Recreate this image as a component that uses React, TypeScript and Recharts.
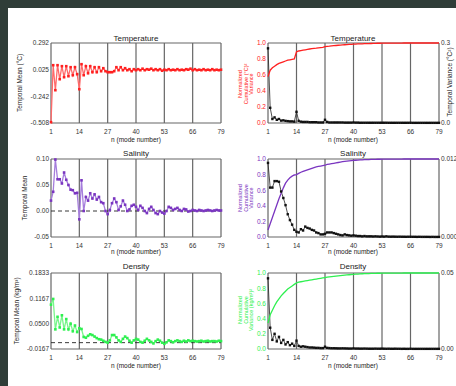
import React from 'react';
import { ComposedChart, Line, XAxis, YAxis, ReferenceLine, CartesianGrid } from 'recharts';

const FONT = '"Liberation Sans", Arial, Helvetica, sans-serif';

const modes = [1,2,3,4,5,6,7,8,9,10,11,12,13,14,15,16,17,18,19,20,21,22,23,24,25,26,27,28,29,30,31,32,33,34,35,36,37,38,39,40,41,42,43,44,45,46,47,48,49,50,51,52,53,54,55,56,57,58,59,60,61,62,63,64,65,66,67,68,69,70,71,72,73,74,75,76,77,78,79];
const modeTicks = [1, 14, 27, 40, 53, 66, 79];
const gridModes = [1, 14, 27, 40, 53, 66, 79];

// Temperature
const tempMean = [
  -0.50, 0.07, -0.18, 0.07, -0.07, 0.06, -0.05, 0.06, -0.04, 0.05,
  -0.03, 0.05, -0.02, -0.17, 0.08, -0.03, 0.06, -0.01, 0.06, 0.00,
  0.05, 0.00, 0.05, 0.01, 0.04, 0.01, 0.00, 0.00, 0.00, 0.01,
  0.05, 0.02, 0.05, 0.02, 0.04, 0.02, 0.03, 0.01, 0.03, 0.02,
  0.03, 0.02, 0.035, 0.02, 0.03, 0.025, 0.035, 0.02, 0.03, 0.02,
  0.03, 0.015, 0.025, 0.02, 0.03, 0.02, 0.025, 0.02, 0.03, 0.02,
  0.025, 0.02, 0.03, 0.025, 0.035, 0.02, 0.03, 0.02, 0.025, 0.02,
  0.03, 0.02, 0.025, 0.02, 0.03, 0.02, 0.025, 0.02, 0.025
];
const tempCum = [
  0.58, 0.66, 0.69, 0.71, 0.73, 0.745, 0.755, 0.765, 0.775, 0.785,
  0.79, 0.795, 0.80, 0.89, 0.90, 0.905, 0.91, 0.915, 0.92, 0.925,
  0.93, 0.933, 0.936, 0.94, 0.943, 0.946, 0.955, 0.958, 0.96, 0.963,
  0.966, 0.969, 0.972, 0.974, 0.976, 0.978, 0.98, 0.982, 0.984, 0.986,
  0.987, 0.988, 0.989, 0.99, 0.991, 0.992, 0.993, 0.994, 0.995, 0.996,
  0.997, 0.997, 0.998, 0.998, 0.998, 0.999, 0.999, 0.999, 0.999, 0.999,
  0.999, 0.999, 1.0, 1.0, 1.0, 1.0, 1.0, 1.0, 1.0, 1.0,
  1.0, 1.0, 1.0, 1.0, 1.0, 1.0, 1.0, 1.0, 1.0
];
const tempVar = [
  0.28, 0.057, 0.015, 0.021, 0.012, 0.015, 0.009, 0.010, 0.008, 0.007,
  0.006, 0.006, 0.005, 0.042, 0.008, 0.005, 0.004, 0.004, 0.004, 0.003,
  0.003, 0.003, 0.003, 0.002, 0.002, 0.002, 0.012, 0.004, 0.002, 0.002,
  0.002, 0.002, 0.002, 0.002, 0.002, 0.0015, 0.0015, 0.0015, 0.0015, 0.002,
  0.0015, 0.0015, 0.001, 0.001, 0.001, 0.001, 0.001, 0.001, 0.001, 0.001,
  0.001, 0.001, 0.001, 0.001, 0.001, 0.0008, 0.0008, 0.0008, 0.0008, 0.0008,
  0.0008, 0.0008, 0.0008, 0.0008, 0.0008, 0.0008, 0.0006, 0.0006, 0.0006, 0.0006,
  0.0006, 0.0006, 0.0006, 0.0006, 0.0006, 0.0006, 0.0006, 0.0006, 0.0006
];

// Salinity
const salMean = [
  0.020, 0.037, 0.099, 0.061, 0.061, 0.053, 0.074, 0.060, 0.050, 0.041,
  0.040, 0.034, 0.035, -0.016, 0.059, 0.000, 0.027, 0.020, 0.034, 0.024,
  0.032, 0.022, 0.027, 0.017, 0.015, 0.000, -0.006, 0.002, 0.015, 0.024,
  0.017, 0.002, 0.009, 0.020, 0.012, 0.000, 0.003, 0.010, 0.012, 0.008,
  0.002, 0.010, 0.006, 0.000, -0.004, 0.004, 0.008, 0.002, -0.004, -0.006,
  0.000, -0.003, -0.005, 0.000, 0.008, 0.006, 0.002, 0.004, 0.006, 0.002,
  0.000, 0.004, 0.003, -0.001, 0.000, 0.002, 0.001, 0.000, 0.002, 0.001,
  0.000, 0.001, 0.002, 0.001, 0.000, 0.001, 0.002, 0.001, 0.001
];
const salCum = [
  0.09, 0.17, 0.25, 0.33, 0.41, 0.49, 0.56, 0.63, 0.69, 0.73,
  0.76, 0.78, 0.795, 0.80, 0.815, 0.83, 0.84, 0.85, 0.86, 0.87,
  0.88, 0.89, 0.90, 0.905, 0.91, 0.915, 0.92, 0.93, 0.935, 0.94,
  0.945, 0.95, 0.955, 0.96, 0.965, 0.97, 0.973, 0.976, 0.979, 0.982,
  0.984, 0.986, 0.988, 0.99, 0.991, 0.992, 0.993, 0.994, 0.995, 0.996,
  0.997, 0.997, 0.998, 0.998, 0.998, 0.999, 0.999, 0.999, 0.999, 0.999,
  0.999, 0.999, 1.0, 1.0, 1.0, 1.0, 1.0, 1.0, 1.0, 1.0,
  1.0, 1.0, 1.0, 1.0, 1.0, 1.0, 1.0, 1.0, 1.0
];
const salVar = [
  0.0114, 0.0076, 0.0076, 0.0086, 0.0086, 0.0085, 0.0070, 0.0060, 0.0049, 0.0035,
  0.0026, 0.0019, 0.0011, 0.0008, 0.0007, 0.0012, 0.0010, 0.0016, 0.0014, 0.0013,
  0.0011, 0.0010, 0.0007, 0.0006, 0.0004, 0.0004, 0.0005, 0.0007, 0.0007, 0.0007,
  0.0006, 0.0005, 0.0004, 0.0003, 0.00025, 0.0004, 0.0003, 0.00025, 0.0002, 0.00025,
  0.0002, 0.00015, 0.00015, 0.0001, 0.00015, 0.0001, 0.0001, 0.0001, 0.00008, 0.0001,
  0.00008, 0.00006, 0.00008, 0.00006, 0.0001, 0.00006, 0.00005, 0.00006, 0.00005, 0.00004,
  0.00005, 0.00004, 0.00004, 0.00003, 0.00004, 0.00003, 0.00003, 0.00003, 0.00002, 0.00003,
  0.00002, 0.00002, 0.00002, 0.00002, 0.00001, 0.00002, 0.00001, 0.00001, 0.00001
];

// Density
const denMean = [
  0.100, 0.115, 0.035, 0.068, 0.040, 0.072, 0.035, 0.062, 0.035, 0.050,
  0.030, 0.045, 0.028, 0.038, 0.036, 0.015, 0.013, 0.018, 0.022, 0.020,
  0.016, 0.012, 0.009, 0.008, 0.005, 0.002, 0.000, 0.006, 0.020, 0.020,
  0.014, 0.006, 0.002, 0.010, 0.016, 0.012, 0.005, 0.000, 0.006, 0.010,
  0.008, 0.002, 0.000, 0.005, 0.010, 0.006, 0.002, -0.002, 0.004, 0.008,
  0.005, 0.000, -0.003, 0.001, 0.006, 0.004, 0.001, 0.004, 0.006, 0.004,
  0.002, 0.005, 0.003, 0.006, 0.004, 0.005, 0.004, 0.003, 0.004, 0.005,
  0.003, 0.004, 0.005, 0.003, 0.004, 0.004, 0.003, 0.005, 0.004
];
const denCum = [
  0.34, 0.45, 0.51, 0.57, 0.62, 0.66, 0.70, 0.73, 0.76, 0.79,
  0.81, 0.83, 0.85, 0.87, 0.88, 0.885, 0.89, 0.895, 0.90, 0.905,
  0.91, 0.915, 0.92, 0.925, 0.93, 0.935, 0.94, 0.945, 0.95, 0.953,
  0.956, 0.959, 0.962, 0.965, 0.968, 0.971, 0.974, 0.977, 0.98, 0.982,
  0.984, 0.986, 0.988, 0.99, 0.991, 0.992, 0.993, 0.994, 0.995, 0.996,
  0.997, 0.997, 0.998, 0.998, 0.998, 0.999, 0.999, 0.999, 0.999, 0.999,
  0.999, 0.999, 1.0, 1.0, 1.0, 1.0, 1.0, 1.0, 1.0, 1.0,
  1.0, 1.0, 1.0, 1.0, 1.0, 1.0, 1.0, 1.0, 1.0
];
const denVar = [
  0.0465, 0.014, 0.006, 0.010, 0.005, 0.008, 0.004, 0.006, 0.003, 0.0045,
  0.0025, 0.0035, 0.002, 0.0055, 0.002, 0.0015, 0.00175, 0.0015, 0.00125, 0.001,
  0.001, 0.0009, 0.00075, 0.00075, 0.0006, 0.0006, 0.0015, 0.00075, 0.0006, 0.0005,
  0.0005, 0.00045, 0.0004, 0.0004, 0.00045, 0.0004, 0.00035, 0.0003, 0.0003, 0.0004,
  0.0003, 0.0003, 0.00025, 0.00025, 0.0003, 0.00025, 0.0002, 0.0002, 0.0002, 0.00025,
  0.0002, 0.0002, 0.00025, 0.0002, 0.00015, 0.0002, 0.00015, 0.00015, 0.0002, 0.00015,
  0.00015, 0.0001, 0.00015, 0.0001, 0.0001, 0.00015, 0.0001, 0.0001, 0.0001, 0.0001,
  0.0001, 0.0001, 0.0001, 0.0001, 0.0001, 0.0001, 0.0001, 0.0001, 0.0001
];

const tempMeanTicks = [-0.508, -0.242, 0.025, 0.292];
const tempMeanLabels = ['-0.508', '-0.242', '0.025', '0.292'];
const salMeanTicks = [-0.05, 0.0, 0.05, 0.10];
const salMeanLabels = ['-0.05', '0.00', '0.05', '0.10'];
const denMeanTicks = [-0.0167, 0.05, 0.1167, 0.1833];
const denMeanLabels = ['-0.0167', '0.0500', '0.1167', '0.1833'];
const cumTicks = [0, 0.2, 0.4, 0.6, 0.8, 1.0];
const cumLabels = ['0.0', '0.2', '0.4', '0.6', '0.8', '1.0'];
const tempVarTicks = [0, 0.3];
const tempVarLabels = ['0.0', '0.3'];
const salVarTicks = [0, 0.012];
const salVarLabels = ['0.000', '0.012'];
const denVarTicks = [0, 0.05];
const denVarLabels = ['0.00', '0.05'];

const RED = '#ff2020';
const RED_LIGHT = '#ff6a6a';
const PURPLE = '#7a35c0';
const PURPLE_LIGHT = '#a57ddc';
const GREEN = '#2ef050';
const GREEN_LIGHT = '#7af58c';

const tickStyle = { fontSize: 6.5, fill: '#333', fontFamily: FONT };

const squareDot = (color: string, size: number) => (p: any) => (
  <rect key={`d${p.index}`} x={p.cx - size / 2} y={p.cy - size / 2} width={size} height={size} fill={color} stroke="none" />
);

const labelFor = (ticks: number[], labels: string[]) => (v: number) => {
  const i = ticks.findIndex((t) => Math.abs(t - v) < 1e-9);
  return i >= 0 ? labels[i] : String(v);
};

function MeanPanel(props: {
  plotTop: number; plotH: number; values: number[]; color: string; light: string;
  ticks: number[]; labels: string[]; dashed: boolean;
}) {
  const { plotTop, plotH, values, color, light, ticks, labels, dashed } = props;
  const rows = modes.map((n, i) => ({ n, v: values[i] }));
  const lo = ticks[0];
  const hi = ticks[ticks.length - 1];
  return (
    <div style={{ position: 'absolute', left: 0, top: plotTop - 10 }}>
      <ComposedChart width={226} height={plotH + 24} data={rows} margin={{ top: 10, right: 5, left: 8, bottom: 0 }}>
        <CartesianGrid yAxisId="l" stroke="#666" strokeWidth={1.2} horizontalValues={[lo, hi]} verticalValues={gridModes} />
        <XAxis dataKey="n" type="number" domain={[1, 79]} ticks={modeTicks} interval={0}
          tickSize={0} tickMargin={6} axisLine={false} tickLine={false} tick={tickStyle} height={14} />
        <YAxis yAxisId="l" type="number" domain={[lo, hi]} ticks={ticks} interval={0}
          tickSize={0} tickMargin={2} axisLine={false} tickLine={false} tick={tickStyle} width={43}
          tickFormatter={labelFor(ticks, labels)} />
        {dashed && <ReferenceLine yAxisId="l" y={0} stroke="#222" strokeDasharray="4 3" strokeWidth={0.9} />}
        <Line yAxisId="l" dataKey="v" type="linear" stroke={light} strokeWidth={1.3}
          dot={squareDot(color, 2.6)} activeDot={false} isAnimationActive={false} />
      </ComposedChart>
    </div>
  );
}

function VarPanel(props: {
  plotTop: number; plotH: number; cum: number[]; vari: number[]; color: string;
  rTicks: number[]; rLabels: string[];
}) {
  const { plotTop, plotH, cum, vari, color, rTicks, rLabels } = props;
  const rows = modes.map((n, i) => ({ n, c: cum[i], v: vari[i] }));
  return (
    <div style={{ position: 'absolute', left: 228, top: plotTop - 10 }}>
      <ComposedChart width={228} height={plotH + 24} data={rows} margin={{ top: 10, right: 0, left: 0, bottom: 0 }}>
        <CartesianGrid yAxisId="l" stroke="#666" strokeWidth={1.2} horizontalValues={[0, 1]} verticalValues={gridModes} />
        <XAxis dataKey="n" type="number" domain={[1, 79]} ticks={modeTicks} interval={0}
          tickSize={0} tickMargin={6} axisLine={false} tickLine={false} tick={tickStyle} height={14} />
        <YAxis yAxisId="l" type="number" domain={[0, 1]} ticks={cumTicks} interval={0}
          tickSize={0} tickMargin={2} axisLine={false} tickLine={false}
          tick={{ ...tickStyle, fill: color }} width={40} tickFormatter={labelFor(cumTicks, cumLabels)} />
        <YAxis yAxisId="r" orientation="right" type="number" domain={[rTicks[0], rTicks[1]]} ticks={rTicks} interval={0}
          tickSize={0} tickMargin={2} axisLine={false} tickLine={false} tick={tickStyle} width={17}
          tickFormatter={labelFor(rTicks, rLabels)} />
        <Line yAxisId="r" dataKey="v" type="linear" stroke="#222" strokeWidth={0.8}
          dot={squareDot('#111', 2.4)} activeDot={false} isAnimationActive={false} />
        <Line yAxisId="l" dataKey="c" type="linear" stroke={color} strokeWidth={1.3}
          dot={false} activeDot={false} isAnimationActive={false} />
      </ComposedChart>
    </div>
  );
}

function Texts() {
  const t = { fontFamily: FONT, fill: '#222' } as const;
  const rows = [
    { title: 'Temperature', ty: 41, xy: 142 },
    { title: 'Salinity', ty: 156, xy: 254 },
    { title: 'Density', ty: 269, xy: 368 },
  ];
  const rightLabels = [
    { cy: 84, color: RED, lines: ['Normalized', 'Cumulative (°C)²', 'Variance'] },
    { cy: 198, color: PURPLE, lines: ['Normalized', 'Cumulative', 'Variance'] },
    { cy: 310, color: GREEN, lines: ['Normalized', 'Cumulative', 'Variance (kg/m³)²'] },
  ];
  return (
    <svg width={456} height={386} style={{ position: 'absolute', left: 0, top: 0, pointerEvents: 'none' }}>
      {rows.map((r) => (
        <g key={r.title}>
          <text x={136} y={r.ty} textAnchor="middle" fontSize={8} {...t}>{r.title}</text>
          <text x={353} y={r.ty} textAnchor="middle" fontSize={8} {...t}>{r.title}</text>
          <text x={136} y={r.xy} textAnchor="middle" fontSize={6.5} {...t}>n (mode number)</text>
          <text x={353} y={r.xy} textAnchor="middle" fontSize={6.5} {...t}>n (mode number)</text>
        </g>
      ))}
      <text transform="translate(22,83) rotate(-90)" textAnchor="middle" fontSize={6.5} {...t}>Temporal Mean (°C)</text>
      <text transform="translate(27,198) rotate(-90)" textAnchor="middle" fontSize={6.5} {...t}>Temporal Mean</text>
      <text transform="translate(19,311) rotate(-90)" textAnchor="middle" fontSize={6.5} {...t}>Temporal Mean (kg/m³)</text>
      {rightLabels.map((r, k) =>
        r.lines.map((ln, i) => (
          <text key={`${k}-${i}`} transform={`translate(${242 + i * 5.5},${r.cy}) rotate(-90)`} textAnchor="middle"
            fontSize={5.5} fontFamily={FONT} fill={r.color}>{ln}</text>
        ))
      )}
      <text transform="translate(452,82) rotate(-90)" textAnchor="middle" fontSize={6.5} {...t}>Temporal Variance (°C²)</text>
    </svg>
  );
}

export default function App() {
  return (
    <div style={{ position: 'fixed', left: 0, top: 0, width: 456, height: 386, background: '#2f3d38', overflow: 'hidden' }}>
      <div style={{ position: 'absolute', left: 8, top: 8, width: 448, height: 378, background: '#ffffff' }} />
      <MeanPanel plotTop={43} plotH={80} values={tempMean} color={RED} light={RED_LIGHT} ticks={tempMeanTicks} labels={tempMeanLabels} dashed={false} />
      <MeanPanel plotTop={159} plotH={78} values={salMean} color={PURPLE} light={PURPLE_LIGHT} ticks={salMeanTicks} labels={salMeanLabels} dashed={true} />
      <MeanPanel plotTop={273} plotH={76} values={denMean} color={GREEN} light={GREEN_LIGHT} ticks={denMeanTicks} labels={denMeanLabels} dashed={true} />
      <VarPanel plotTop={43} plotH={80} cum={tempCum} vari={tempVar} color={RED} rTicks={tempVarTicks} rLabels={tempVarLabels} />
      <VarPanel plotTop={159} plotH={78} cum={salCum} vari={salVar} color={PURPLE} rTicks={salVarTicks} rLabels={salVarLabels} />
      <VarPanel plotTop={273} plotH={76} cum={denCum} vari={denVar} color={GREEN} rTicks={denVarTicks} rLabels={denVarLabels} />
      <Texts />
    </div>
  );
}
